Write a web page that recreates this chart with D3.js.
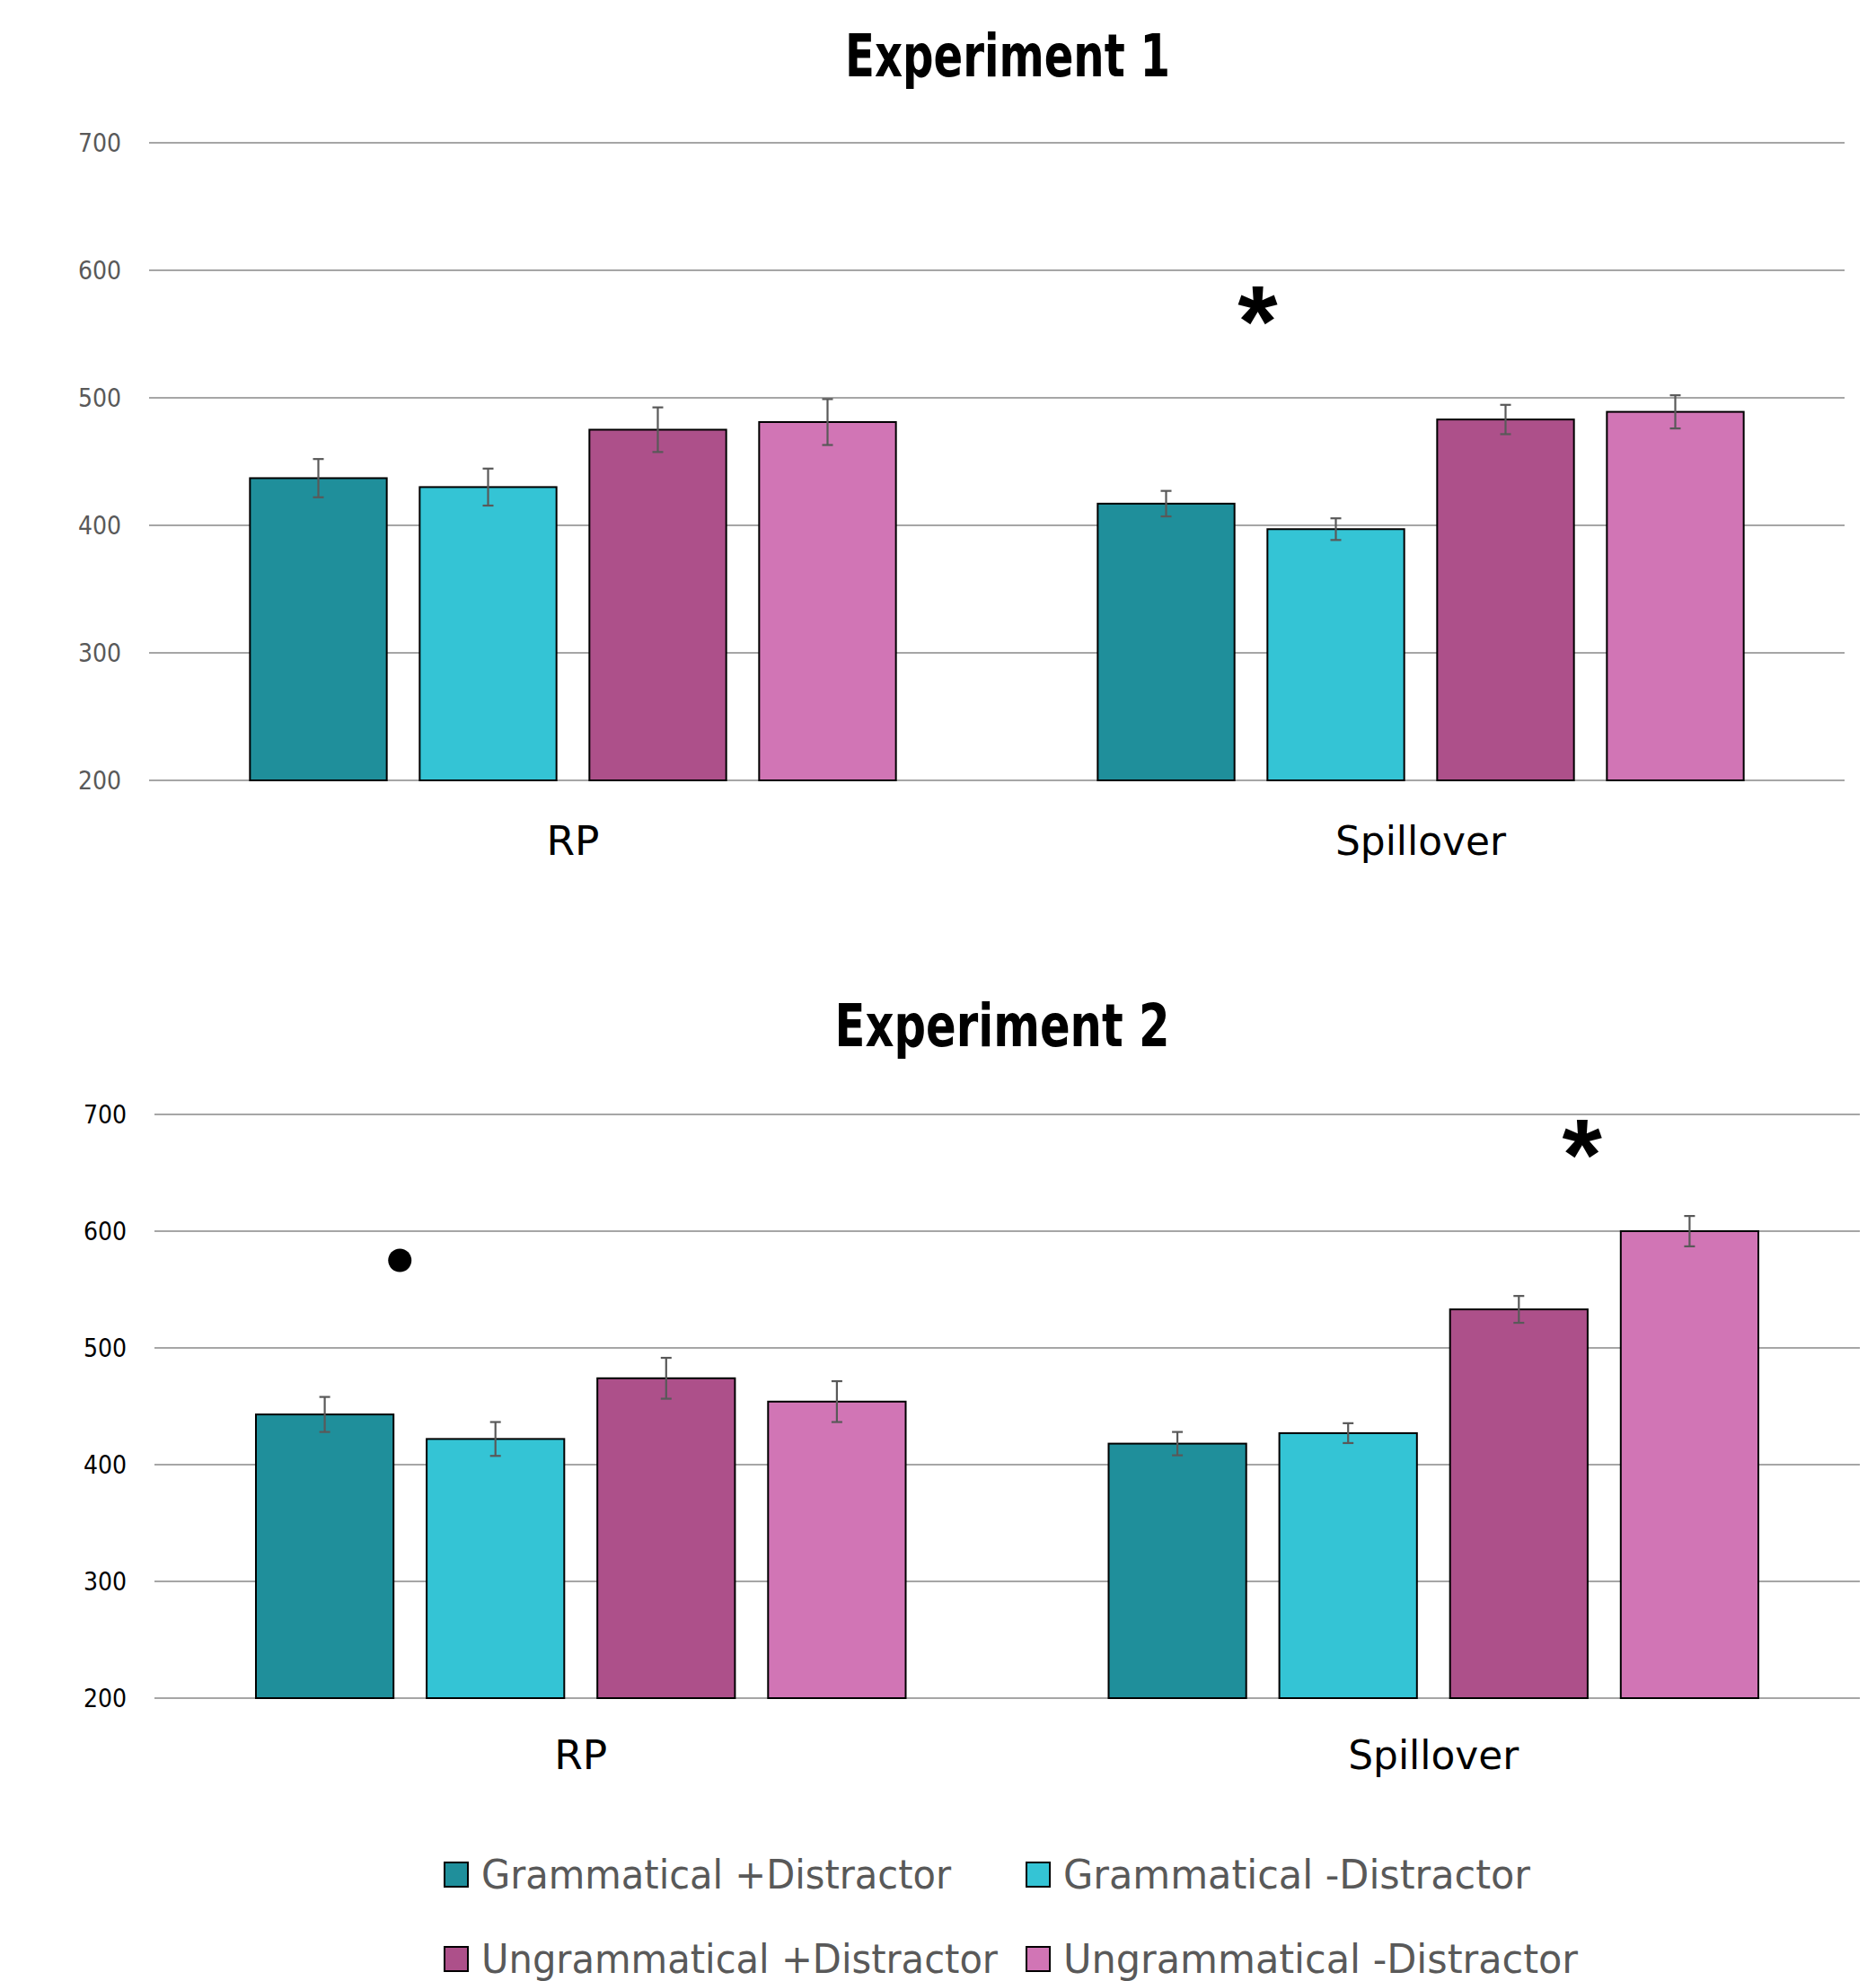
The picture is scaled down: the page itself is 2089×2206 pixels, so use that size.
<!DOCTYPE html>
<html>
<head>
<meta charset="utf-8">
<script src="https://cdn.jsdelivr.net/npm/d3@7"></script>
<style>
  html, body { margin: 0; padding: 0; background: #ffffff; }
  svg { display: block; }
</style>
</head>
<body>
<script>
// Regions of interest and conditions
const groups = ["RP", "Spillover"];
const seriesNames = [
  "Grammatical +Distractor",
  "Grammatical -Distractor",
  "Ungrammatical +Distractor",
  "Ungrammatical -Distractor"
];
const seriesColors = ["#1f8f9b", "#34c4d5", "#ad508a", "#d175b5"];
const yTicks = [200, 300, 400, 500, 600, 700];

// Experiment 1 mean reading times (ms) and error bar half-widths
const exp1RP = [437, 430, 475, 481];
const exp1Spill = [417, 397, 483, 489];
const exp1RPErr = [15, 14.5, 17.5, 18];
const exp1SpillErr = [10, 8.5, 11.5, 13];

// Experiment 2 mean reading times (ms) and error bar half-widths
const exp2RP = [443, 422, 474, 454];
const exp2Spill = [418, 427, 533, 600];
const exp2RPErr = [15, 14.5, 17.5, 17.5];
const exp2SpillErr = [10, 8.5, 11.5, 13];

// Significance markers: [symbol, group, position in series units, value]
const exp1Marks = [["*", "Spillover", 0.54, 572]];
const exp2Marks = [["•", "RP", 0.44, 575], ["*", "Spillover", 2.37, 678]];

const W = 2089, H = 2206;
const svg = d3.select("body").append("svg")
  .attr("width", W).attr("height", H)
  .attr("viewBox", `0 0 ${W} ${H}`);

const textFont = "'DejaVu Sans Condensed', 'DejaVu Sans', sans-serif";

function drawPanel(cfg) {
  const g = svg.append("g");
  const x0 = d3.scaleBand().domain(groups).range([cfg.left, cfg.right]);
  const gw = x0.bandwidth();
  const x1 = d3.scaleBand().domain(d3.range(seriesNames.length))
    .range([0.119 * gw, 0.881 * gw]).paddingInner(0.194).paddingOuter(0);
  const y = d3.scaleLinear().domain([200, 700]).range([cfg.bottom, cfg.top]);

  // title
  g.append("text")
    .attr("x", cfg.titleX).attr("y", cfg.titleY)
    .attr("text-anchor", "middle")
    .attr("font-family", textFont)
    .attr("font-weight", "bold")
    .attr("font-size", 65)
    .attr("textLength", cfg.titleLen)
    .attr("lengthAdjust", "spacingAndGlyphs")
    .attr("fill", "#000")
    .text(cfg.title);

  // gridlines
  g.append("g").selectAll("line").data(yTicks).join("line")
    .attr("x1", cfg.left).attr("x2", cfg.right)
    .attr("y1", d => y(d)).attr("y2", d => y(d))
    .attr("stroke", "#a6a6a6").attr("stroke-width", 2);

  // y tick labels
  g.append("g").selectAll("text").data(yTicks).join("text")
    .attr("x", cfg.left - 31).attr("y", d => y(d))
    .attr("dy", "0.36em")
    .attr("text-anchor", "end")
    .attr("font-family", textFont)
    .attr("font-size", 28)
    .attr("fill", cfg.tickColor)
    .text(d => d);

  // bars and error bars
  cfg.groupData.forEach((vals, gi) => {
    const grp = groups[gi];
    const errs = cfg.groupErr[gi];
    const gg = g.append("g").attr("transform", `translate(${x0(grp)},0)`);
    gg.selectAll("rect").data(vals).join("rect")
      .attr("x", (d, i) => x1(i))
      .attr("y", d => y(d))
      .attr("width", x1.bandwidth())
      .attr("height", d => y(200) - y(d))
      .attr("fill", (d, i) => seriesColors[i])
      .attr("stroke", "#000")
      .attr("stroke-width", 2);

    const eb = gg.selectAll("g.err").data(vals).join("g").attr("class", "err")
      .attr("stroke", "#595959").attr("stroke-width", 2.2);
    eb.append("line")
      .attr("x1", (d, i) => x1(i) + x1.bandwidth() / 2)
      .attr("x2", (d, i) => x1(i) + x1.bandwidth() / 2)
      .attr("y1", (d, i) => y(d + errs[i]))
      .attr("y2", (d, i) => y(d - errs[i]));
    [1, -1].forEach(s => {
      eb.append("line")
        .attr("x1", (d, i) => x1(i) + x1.bandwidth() / 2 - 6)
        .attr("x2", (d, i) => x1(i) + x1.bandwidth() / 2 + 6)
        .attr("y1", (d, i) => y(d + s * errs[i]))
        .attr("y2", (d, i) => y(d + s * errs[i]));
    });
  });

  // category labels
  g.append("g").selectAll("text").data(groups).join("text")
    .attr("x", d => x0(d) + gw / 2)
    .attr("y", cfg.catY)
    .attr("text-anchor", "middle")
    .attr("font-family", textFont)
    .attr("font-size", 44)
    .attr("textLength", (d, i) => cfg.catLen[i])
    .attr("lengthAdjust", "spacingAndGlyphs")
    .attr("fill", "#000")
    .text(d => d);

  // significance markers
  const step = x1.step();
  cfg.marks.forEach(([sym, grp, pos, val]) => {
    const cx = x0(grp) + x1(0) + x1.bandwidth() / 2 + pos * step;
    if (sym === "•") {
      g.append("circle").attr("cx", cx).attr("cy", y(val)).attr("r", 13).attr("fill", "#000");
    } else {
      g.append("text")
        .attr("x", cx).attr("y", y(val))
        .attr("dy", "0.49em")
        .attr("text-anchor", "middle")
        .attr("font-family", "'Liberation Sans', Arial, sans-serif")
        .attr("font-weight", "bold")
        .attr("font-size", 114)
        .attr("fill", "#000")
        .text(sym);
    }
  });
}

drawPanel({
  title: "Experiment 1", titleX: 1122, titleY: 85, titleLen: 362,
  left: 166, right: 2054, top: 159, bottom: 869,
  tickColor: "#595959", catY: 952, catLen: [59, 190],
  groupData: [exp1RP, exp1Spill], groupErr: [exp1RPErr, exp1SpillErr],
  marks: exp1Marks
});

drawPanel({
  title: "Experiment 2", titleX: 1116, titleY: 1165, titleLen: 373,
  left: 172, right: 2071, top: 1241, bottom: 1891,
  tickColor: "#000000", catY: 1970, catLen: [59, 190],
  groupData: [exp2RP, exp2Spill], groupErr: [exp2RPErr, exp2SpillErr],
  marks: exp2Marks
});

// legend
const legendX = [495, 1143];
const legendY = [2074, 2168];
const legendLen = [523, 520, 575, 573];
const legend = svg.append("g");
const items = legend.selectAll("g").data(seriesNames).join("g")
  .attr("transform", (d, i) => `translate(${legendX[i % 2]},${legendY[Math.floor(i / 2)]})`);
items.append("rect")
  .attr("width", 26).attr("height", 27)
  .attr("fill", (d, i) => seriesColors[i])
  .attr("stroke", "#000").attr("stroke-width", 2);
items.append("text")
  .attr("x", 41).attr("y", 29)
  .attr("font-family", textFont)
  .attr("font-size", 44)
  .attr("textLength", (d, i) => legendLen[i])
  .attr("lengthAdjust", "spacingAndGlyphs")
  .attr("fill", "#595959")
  .text(d => d);
</script>
</body>
</html>
